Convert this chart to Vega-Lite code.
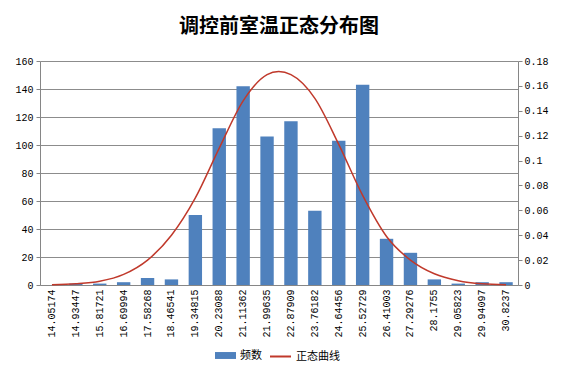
{
  "$schema": "https://vega.github.io/schema/vega-lite/v6.json",
  "autosize": {"type": "none"},
  "width": 478,
  "height": 224,
  "padding": {"left": 40, "top": 61, "right": 46, "bottom": 89},
  "background": "white",
  "title": {
    "text": "调控前室温正态分布图",
    "font": "Noto Sans CJK SC",
    "fontSize": 20,
    "fontWeight": "bold",
    "color": "#000000",
    "anchor": "middle",
    "offset": 19
  },
  "data": {
    "values": [
      {"x": "14.05174", "freq": 0, "pdf": 0.0003},
      {"x": "14.93447", "freq": 1, "pdf": 0.001},
      {"x": "15.81721", "freq": 1, "pdf": 0.003},
      {"x": "16.69994", "freq": 2, "pdf": 0.0085},
      {"x": "17.58268", "freq": 5, "pdf": 0.02},
      {"x": "18.46541", "freq": 4, "pdf": 0.04},
      {"x": "19.34815", "freq": 50, "pdf": 0.07},
      {"x": "20.23088", "freq": 112, "pdf": 0.11},
      {"x": "21.11362", "freq": 142, "pdf": 0.148},
      {"x": "21.99635", "freq": 106, "pdf": 0.169},
      {"x": "22.87909", "freq": 117, "pdf": 0.169},
      {"x": "23.76182", "freq": 53, "pdf": 0.15},
      {"x": "24.64456", "freq": 103, "pdf": 0.113},
      {"x": "25.52729", "freq": 143, "pdf": 0.072},
      {"x": "26.41003", "freq": 33, "pdf": 0.039},
      {"x": "27.29276", "freq": 23, "pdf": 0.02},
      {"x": "28.1755", "freq": 4, "pdf": 0.009},
      {"x": "29.05823", "freq": 1, "pdf": 0.0035},
      {"x": "29.94097", "freq": 2, "pdf": 0.001},
      {"x": "30.8237", "freq": 2, "pdf": 0.0003}
    ]
  },
  "encoding": {
    "x": {
      "field": "x",
      "type": "nominal",
      "sort": null,
      "scale": {"paddingInner": 0.44, "paddingOuter": 0.22},
      "axis": {
        "title": null,
        "labelAngle": -90,
        "labelAlign": "right",
        "labelBaseline": "middle",
        "labelPadding": 4,
        "labelFont": "Liberation Mono",
        "labelFontSize": 10,
        "labelColor": "#000000",
        "ticks": false,
        "domainColor": "#868686",
        "grid": false
      }
    }
  },
  "layer": [
    {
      "mark": {"type": "bar", "color": "#4F81BD"},
      "encoding": {
        "y": {
          "field": "freq",
          "type": "quantitative",
          "scale": {"domain": [0, 160], "nice": false},
          "axis": {
            "title": null,
            "values": [0, 20, 40, 60, 80, 100, 120, 140, 160],
            "labelFont": "Liberation Mono",
            "labelFontSize": 10,
            "labelColor": "#000000",
            "domainColor": "#868686",
            "tickColor": "#868686",
            "tickSize": 4,
            "grid": true,
            "gridColor": "#8c8c8c",
            "labelPadding": 3
          }
        },
        "fill": {
          "datum": "频数",
          "type": "nominal",
          "scale": {"range": ["#4F81BD"]},
          "legend": {
            "orient": "none",
            "legendX": 175,
            "legendY": 284,
            "title": null,
            "symbolType": "M-1,-0.33H1V0.33H-1Z",
            "symbolSize": 441,
            "symbolStrokeWidth": 0,
            "labelFont": "Noto Sans CJK SC",
            "labelFontSize": 11,
            "labelColor": "#000000",
            "labelOffset": 4
          }
        }
      }
    },
    {
      "mark": {"type": "line", "color": "#C0392B", "strokeWidth": 1.5, "interpolate": "cardinal"},
      "encoding": {
        "y": {
          "field": "pdf",
          "type": "quantitative",
          "scale": {"domain": [0, 0.18], "nice": false},
          "axis": {
            "orient": "right",
            "title": null,
            "values": [0, 0.02, 0.04, 0.06, 0.08, 0.1, 0.12, 0.14, 0.16, 0.18],
            "format": ".2~f",
            "labelFont": "Liberation Mono",
            "labelFontSize": 10,
            "labelColor": "#000000",
            "domainColor": "#868686",
            "tickColor": "#868686",
            "tickSize": 4,
            "grid": false,
            "labelPadding": 2
          }
        },
        "stroke": {
          "datum": "正态曲线",
          "type": "nominal",
          "scale": {"range": ["#C0392B"]},
          "legend": {
            "orient": "none",
            "legendX": 229,
            "legendY": 284,
            "title": null,
            "symbolType": "stroke",
            "symbolSize": 441,
            "symbolStrokeWidth": 2,
            "labelFont": "Noto Sans CJK SC",
            "labelFontSize": 11,
            "labelColor": "#000000",
            "labelOffset": 4
          }
        }
      }
    }
  ],
  "resolve": {"scale": {"y": "independent"}},
  "config": {
    "view": {"stroke": null}
  }
}
